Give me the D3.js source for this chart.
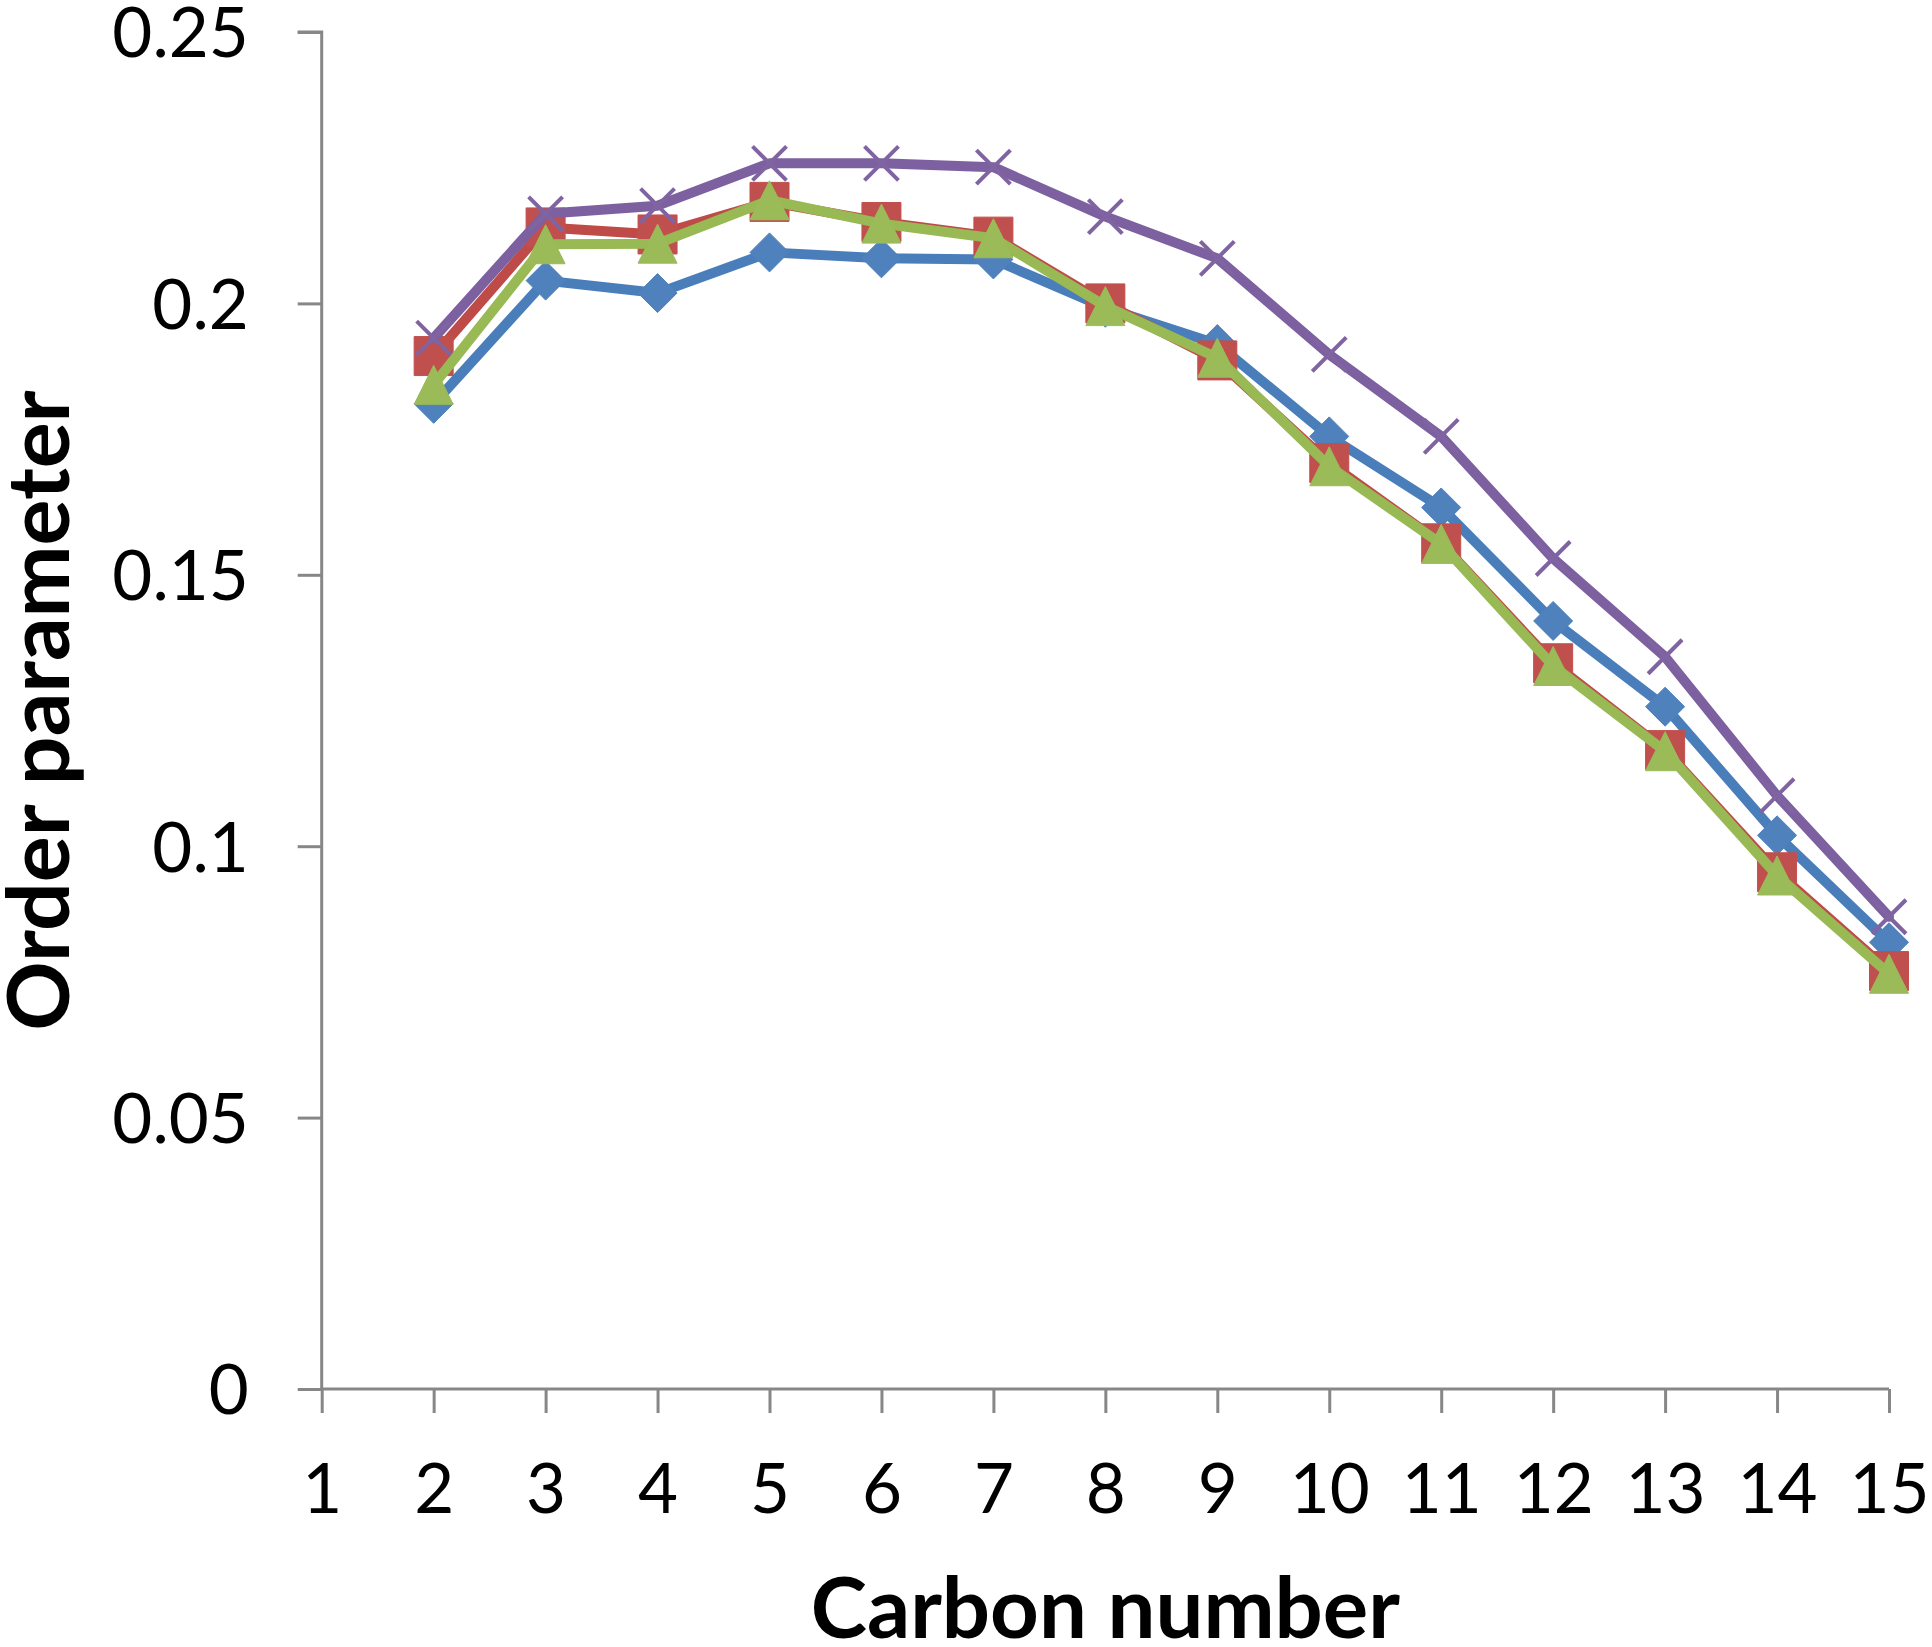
<!DOCTYPE html>
<html>
<head>
<meta charset="utf-8">
<script src="https://cdn.jsdelivr.net/npm/d3@7"></script>
<style>
  html, body { margin: 0; padding: 0; background: #fff; }
  svg { display: block; }
</style>
</head>
<body>
<svg id="chart" width="1932" height="1647"></svg>
<script>
// ---- data ----
const carbons = [2, 3, 4, 5, 6, 7, 8, 9, 10, 11, 12, 13, 14, 15];
const seriesBlue   = [0.1815, 0.2042, 0.2019, 0.2094, 0.2083, 0.2081, 0.1992, 0.1925, 0.1755, 0.1624, 0.1415, 0.1257, 0.1020, 0.0823];
const seriesRed    = [0.1903, 0.2140, 0.2127, 0.2187, 0.2150, 0.2123, 0.2000, 0.1895, 0.1706, 0.1558, 0.1337, 0.1177, 0.0952, 0.0770];
const seriesGreen  = [0.1850, 0.2109, 0.2110, 0.2190, 0.2147, 0.2120, 0.1995, 0.1900, 0.1700, 0.1557, 0.1332, 0.1175, 0.0946, 0.0765];
const seriesPurple = [0.1936, 0.2165, 0.2180, 0.2258, 0.2258, 0.2251, 0.2160, 0.2083, 0.1906, 0.1755, 0.1530, 0.1349, 0.1093, 0.0870];
const xTicks = [1, 2, 3, 4, 5, 6, 7, 8, 9, 10, 11, 12, 13, 14, 15];
const yTicks = [0, 0.05, 0.1, 0.15, 0.2, 0.25];
const xTitle = "Carbon number";
const yTitle = "Order parameter";

// ---- layout ----
const svg = d3.select("#chart");
const plotL = 321.7, plotR = 1889, plotT = 32, plotB = 1389;
const x = d3.scaleLinear().domain([1, 15]).range([plotL, plotR]);
const y = d3.scaleLinear().domain([0, 0.25]).range([plotB, plotT]);
const axisColor = "#878787";
const font = "Lato, 'Open Sans', sans-serif";

// y axis
const yAxis = svg.append("g").attr("transform", `translate(${plotL},0)`)
  .call(d3.axisLeft(y).tickValues(yTicks).tickSize(24).tickPadding(49)
    .tickFormat(d => String(+d.toFixed(2))));
yAxis.select(".domain").attr("stroke", axisColor).attr("stroke-width", 3)
  .attr("d", `M-24,${plotT}H0V${plotB}`);
yAxis.selectAll(".tick line").attr("stroke", axisColor).attr("stroke-width", 3);
yAxis.selectAll(".tick text").attr("font-family", font).attr("font-size", 69)
  .attr("fill", "#000").attr("dy", "0.36em");

// x axis
const xAxis = svg.append("g").attr("transform", `translate(0,${plotB})`)
  .call(d3.axisBottom(x).tickValues(xTicks).tickSize(24).tickFormat(d => String(d)));
xAxis.select(".domain").attr("stroke", axisColor).attr("stroke-width", 3)
  .attr("d", `M${plotL},0H${plotR}`);
xAxis.selectAll(".tick line").attr("stroke", axisColor).attr("stroke-width", 3);
xAxis.selectAll(".tick text").attr("font-family", font).attr("font-size", 69)
  .attr("fill", "#000").attr("y", 124).attr("dy", 0);

// titles
svg.append("text").attr("x", (plotL + plotR) / 2).attr("y", 1638)
  .attr("text-anchor", "middle").attr("font-family", font).attr("font-weight", 700)
  .attr("font-size", 85).attr("fill", "#000").text(xTitle);
svg.append("text").attr("transform", `translate(69,${(plotT + plotB) / 2}) rotate(-90)`)
  .attr("text-anchor", "middle").attr("font-family", font).attr("font-weight", 700)
  .attr("font-size", 86).attr("fill", "#000").text(yTitle);

// ---- series ----
const series = [
  { values: seriesBlue,   line: "#4A7EBB", mark: "#4F81BD", shape: "diamond" },
  { values: seriesRed,    line: "#BE4B48", mark: "#C0504D", shape: "square" },
  { values: seriesGreen,  line: "#98B954", mark: "#9BBB59", shape: "triangle" },
  { values: seriesPurple, line: "#7D60A0", mark: "#8064A2", shape: "x" }
];
const lineGen = d3.line().x((d, i) => x(carbons[i])).y(d => y(d));

function markerPath(shape) {
  const h = 19.5;
  if (shape === "diamond") return `M0,${-h}L${h},0L0,${h}L${-h},0Z`;
  if (shape === "square") return `M${-h},${-h}H${h}V${h}H${-h}Z`;
  if (shape === "triangle") return `M0,${-h}L${h},${h}L${-h},${h}Z`;
  const k = 17;
  return `M${-k},${-k}L${k},${k}M${-k},${k}L${k},${-k}`;
}

series.forEach(s => {
  const g = svg.append("g");
  g.append("path").datum(s.values).attr("d", lineGen)
    .attr("fill", "none").attr("stroke", s.line).attr("stroke-width", 10)
    .attr("stroke-linejoin", "round").attr("stroke-linecap", "round");
  g.selectAll("path.m").data(s.values).enter().append("path").attr("class", "m")
    .attr("transform", (d, i) => `translate(${x(carbons[i])},${y(d)})`)
    .attr("d", markerPath(s.shape))
    .attr("fill", s.shape === "x" ? "none" : s.mark)
    .attr("stroke", s.mark)
    .attr("stroke-width", s.shape === "x" ? 4 : 1)
    .attr("stroke-linejoin", "round");
});
</script>
</body>
</html>
